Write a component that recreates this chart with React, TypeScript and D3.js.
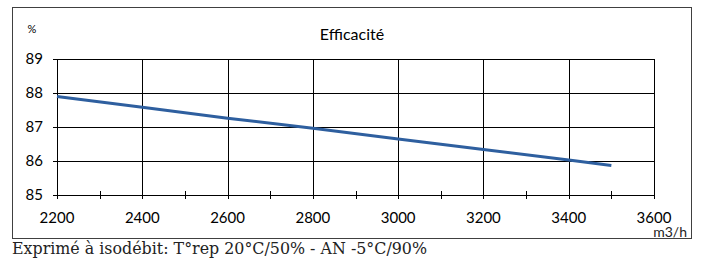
import React, { useRef, useEffect } from 'react';
import * as d3 from 'd3';

// Débit d'air (m3/h) et efficacité (%)
const debits = [2200, 2400, 2600, 2800, 3000, 3200, 3400, 3500];
const efficacite = [87.9, 87.58, 87.26, 86.96, 86.65, 86.34, 86.03, 85.87];
const xTicks = [2200, 2400, 2600, 2800, 3000, 3200, 3400, 3600];
const xMinorTicks = [2300, 2500, 2700, 2900, 3100, 3300, 3500];
const yTicks = [85, 86, 87, 88, 89];

const App = () => {
  const ref = useRef<SVGSVGElement>(null);

  useEffect(() => {
    const svg = d3.select(ref.current);
    svg.selectAll('*').remove();

    const font = 'Lato, "Open Sans", sans-serif';
    const left = 57, right = 654, top = 59, bottom = 195;

    const x = d3.scaleLinear().domain([2200, 3600]).range([left, right]);
    const y = d3.scaleLinear().domain([85, 89]).range([bottom, top]);

    // Outer frame
    svg.append('rect')
      .attr('x', 12.5).attr('y', 7.5)
      .attr('width', 679).attr('height', 231)
      .attr('fill', '#fff')
      .attr('stroke', '#404040')
      .attr('stroke-width', 1);

    // Grid
    const grid = svg.append('g').attr('stroke', '#000').attr('stroke-width', 1);
    xTicks.forEach(t => {
      const px = Math.round(x(t)) + 0.5;
      grid.append('line').attr('x1', px).attr('x2', px).attr('y1', top).attr('y2', bottom + 4);
    });
    yTicks.forEach(t => {
      const py = Math.round(y(t)) + 0.5;
      grid.append('line').attr('x1', left - 4).attr('x2', right).attr('y1', py).attr('y2', py);
    });
    xMinorTicks.forEach(t => {
      const px = Math.round(x(t)) + 0.5;
      grid.append('line').attr('x1', px).attr('x2', px).attr('y1', bottom - 4).attr('y2', bottom + 4);
    });

    // Y tick labels
    svg.append('g').selectAll('text')
      .data(yTicks)
      .join('text')
      .attr('x', 43)
      .attr('y', d => y(d) + 5)
      .attr('text-anchor', 'end')
      .style('font-family', font)
      .style('font-size', '15px')
      .attr('fill', '#000')
      .text(d => d);

    // X tick labels
    svg.append('g').selectAll('text')
      .data(xTicks)
      .join('text')
      .attr('x', d => x(d))
      .attr('y', 222.5)
      .attr('text-anchor', 'middle')
      .style('font-family', font)
      .style('font-size', '15px')
      .attr('fill', '#000')
      .text(d => d);

    // Courbe
    const line = d3.line<number>()
      .x((d, i) => x(debits[i]))
      .y(d => y(d));
    svg.append('path')
      .datum(efficacite)
      .attr('d', line)
      .attr('fill', 'none')
      .attr('stroke', '#2e5f9f')
      .attr('stroke-width', 3);

    // Titles and units
    svg.append('text')
      .attr('x', 352).attr('y', 40)
      .attr('text-anchor', 'middle')
      .style('font-family', font)
      .style('font-size', '16px')
      .text('Efficacité');

    svg.append('text')
      .attr('x', 32).attr('y', 33)
      .attr('text-anchor', 'middle')
      .style('font-family', font)
      .style('font-size', '11px')
      .text('%');

    svg.append('text')
      .attr('x', 687).attr('y', 237)
      .attr('text-anchor', 'end')
      .style('font-family', font)
      .style('font-size', '14px')
      .attr('fill', '#222')
      .text('m3/h');

    svg.append('text')
      .attr('x', 12).attr('y', 254)
      .attr('textLength', 415)
      .attr('lengthAdjust', 'spacingAndGlyphs')
      .style('font-family', '"DejaVu Serif", serif')
      .style('font-size', '16px')
      .attr('fill', '#222')
      .text('Exprimé à isodébit: T°rep 20°C/50% - AN -5°C/90%');
  }, []);

  return (
    <svg
      ref={ref}
      width={704}
      height={258}
      style={{ position: 'absolute', left: 0, top: 0, background: '#fff' }}
    />
  );
};

export default App;
